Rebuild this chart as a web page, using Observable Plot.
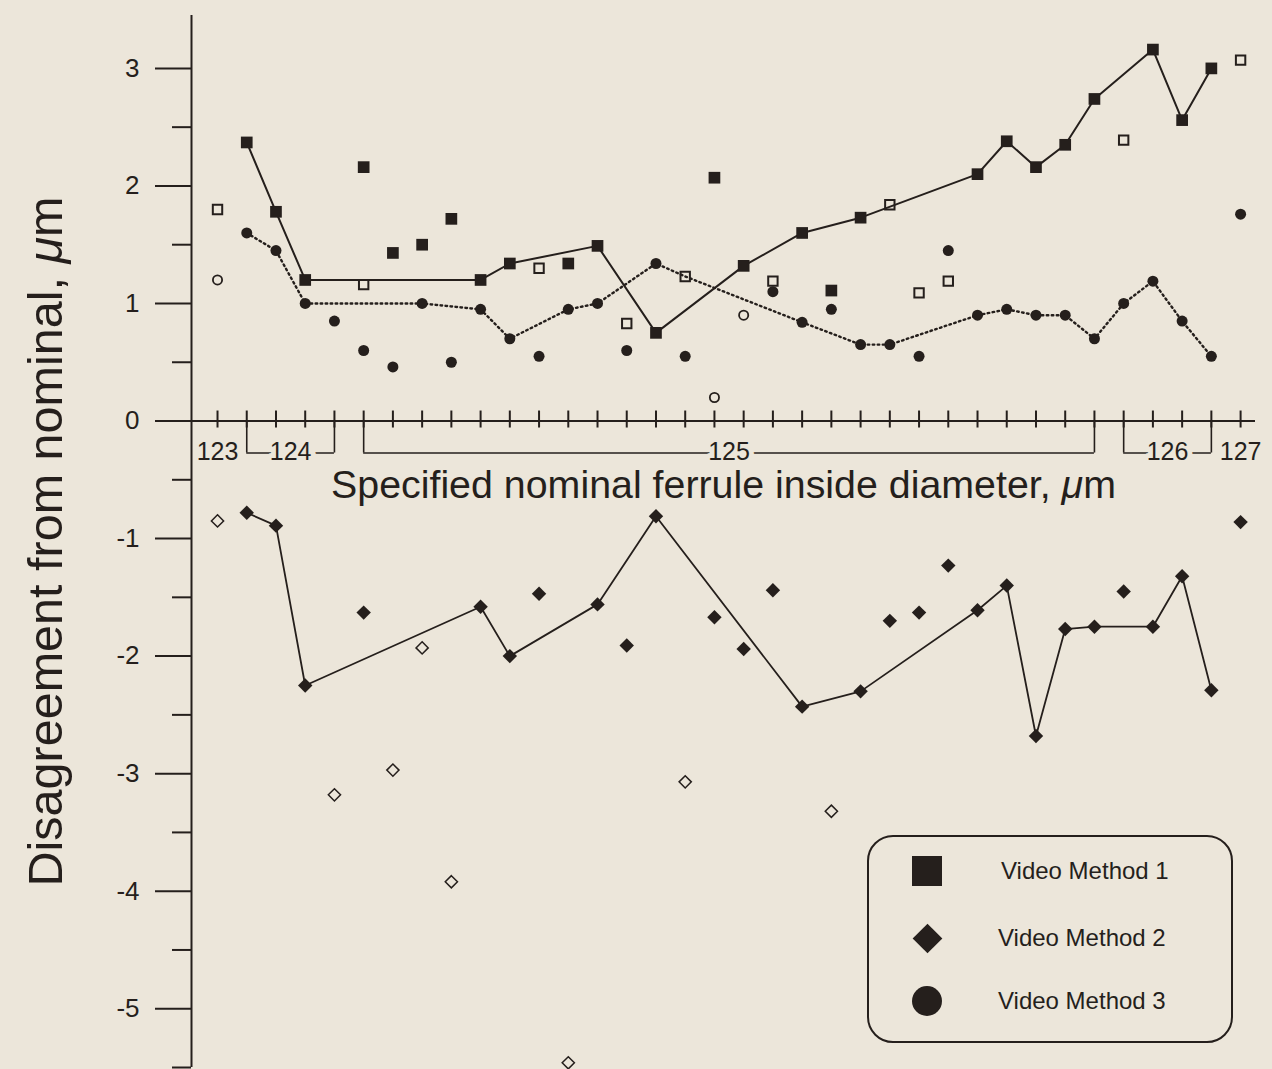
<!DOCTYPE html>
<html>
<head>
<meta charset="utf-8">
<script src="https://cdn.jsdelivr.net/npm/d3@7"></script>
<script src="https://cdn.jsdelivr.net/npm/@observablehq/plot@0.6"></script>
<style>
  html, body { margin: 0; padding: 0; background: #ece6da; }
  #wrap { position: relative; width: 1272px; height: 1069px; overflow: hidden;
          font-family: "Liberation Sans", Arial, Helvetica, sans-serif; color: #251f1c; }
  #legend { position: absolute; left: 867px; top: 835px; width: 366px; height: 208px;
            box-sizing: border-box; border: 2px solid #251f1c; border-radius: 26px; }
  .lg-mark { position: absolute; width: 30px; height: 30px; }
  .lg-text { position: absolute; font-size: 24px; line-height: 28px; white-space: nowrap; }
</style>
</head>
<body>
<div id="wrap"></div>
<script>
// ---------------- data ----------------
// x positions: specimen index 0..35 along the nominal-diameter axis
const groupLabels = ["123", "124", "125", "126", "127"];
const groupStart  = [0, 1, 5, 31, 35];
const groupEnd    = [0, 4, 30, 34, 35];

const yMajorTicks = [3, 2, 1, 0, -1, -2, -3, -4, -5];
const yMinorTicks = [2.5, 1.5, 0.5, -0.5, -1.5, -2.5, -3.5, -4.5, -5.5];

const xTitle = "Specified nominal ferrule inside diameter, μm";
const yTitle = "Disagreement from nominal, μm";

// Video Method 1 (squares)
const m1Line = [[1,2.37],[2,1.78],[3,1.20],[9,1.20],[10,1.34],[13,1.49],[15,0.75],[18,1.32],[20,1.60],[22,1.73],
                [26,2.10],[27,2.38],[28,2.16],[29,2.35],[30,2.74],[32,3.16],[33,2.56],[34,3.00]];
const m1Extra = [[5,2.16],[6,1.43],[7,1.50],[8,1.72],[12,1.34],[17,2.07],[21,1.11]];
const m1Open = [[0,1.80],[5,1.16],[11,1.30],[14,0.83],[16,1.23],[19,1.19],[23,1.84],[24,1.09],[25,1.19],[31,2.39],[35,3.07]];

// Video Method 2 (diamonds)
const m2Line = [[1,-0.78],[2,-0.89],[3,-2.25],[9,-1.58],[10,-2.00],[13,-1.56],[15,-0.81],[20,-2.43],[22,-2.30],
                [26,-1.61],[27,-1.40],[28,-2.68],[29,-1.77],[30,-1.75],[32,-1.75],[33,-1.32],[34,-2.29]];
const m2Extra = [[5,-1.63],[11,-1.47],[14,-1.91],[17,-1.67],[18,-1.94],[19,-1.44],[23,-1.70],[24,-1.63],[25,-1.23],[31,-1.45],[35,-0.86]];
const m2Open = [[0,-0.85],[4,-3.18],[6,-2.97],[7,-1.93],[8,-3.92],[12,-5.46],[16,-3.07],[21,-3.32]];

// Video Method 3 (circles)
const m3Line = [[1,1.60],[2,1.45],[3,1.00],[7,1.00],[9,0.95],[10,0.70],[12,0.95],[13,1.00],[15,1.34],[16,1.23],
                [20,0.84],[22,0.65],[23,0.65],[26,0.90],[27,0.95],[28,0.90],[29,0.90],[30,0.70],[31,1.00],[32,1.19],[33,0.85],[34,0.55]];
const m3Filled = [[1,1.60],[2,1.45],[3,1.00],[4,0.85],[5,0.60],[6,0.46],[7,1.00],[8,0.50],[9,0.95],[10,0.70],[11,0.55],
                  [12,0.95],[13,1.00],[14,0.60],[15,1.34],[16,0.55],[19,1.10],[20,0.84],[21,0.95],[22,0.65],[23,0.65],
                  [24,0.55],[25,1.45],[26,0.90],[27,0.95],[28,0.90],[29,0.90],[30,0.70],[31,1.00],[32,1.19],[33,0.85],[34,0.55],[35,1.76]];
const m3Open = [[0,1.20],[17,0.20],[18,0.90]];

const legendLabels = ["Video Method 1", "Video Method 2", "Video Method 3"];
const legendSymbols = ["square", "diamond", "circle"];

// ---------------- chart ----------------
const ink = "#251f1c";
const paper = "#ece6da";
const xDomain = [-0.89, 35.51];
const yDomain = [-5.5, 3.45];
const specimens = d3.range(groupStart[0], groupEnd[groupEnd.length - 1] + 1);
const groups = groupLabels.map((label, k) => ({label, a: groupStart[k], b: groupEnd[k]}));
const bracketGroups = groups.filter(g => g.a < g.b);
const bracketEnds = bracketGroups.flatMap(g => [g.a, g.b]);
const xy = {x: d => d[0], y: d => d[1]};

const chart = Plot.plot({
  width: 1272,
  height: 1069,
  marginLeft: 191,
  marginRight: 17,
  marginTop: 15,
  marginBottom: 2,
  x: {domain: xDomain, axis: null},
  y: {domain: yDomain, axis: null},
  style: {background: "transparent", fontFamily: '"Liberation Sans", Arial, Helvetica, sans-serif', color: ink},
  marks: [
    // y axis line and ticks
    Plot.ruleX([xDomain[0]], {stroke: ink, strokeWidth: 2}),
    Plot.axisY(yMajorTicks, {tickSize: 36, tickPadding: 16, fontSize: 26, tickFormat: d => String(d),
                             label: null, stroke: ink, fill: ink, strokeWidth: 2}),
    Plot.axisY(yMinorTicks, {tickSize: 19, fill: "none", label: null, stroke: ink, strokeWidth: 2}),
    // x axis at zero with crossing ticks
    Plot.ruleY([0], {stroke: ink, strokeWidth: 2}),
    Plot.ruleX(specimens, {x: d => d, y1: 0, y2: 0, insetTop: -10, insetBottom: -7, stroke: ink, strokeWidth: 2}),
    // group brackets
    Plot.ruleX(bracketEnds, {x: d => d, y1: 0, y2: 0, insetTop: 0, insetBottom: -32, stroke: ink, strokeWidth: 1.6}),
    Plot.ruleY(bracketGroups, {y: 0, x1: g => g.a, x2: g => g.b, dy: 32, stroke: ink, strokeWidth: 1.6}),
    Plot.text(groups, {x: g => (g.a + g.b) / 2, y: 0, dy: 31, text: g => g.label, fontSize: 25,
                       fill: ink, stroke: paper, strokeWidth: 10}),
    // titles
    Plot.text([xTitle], {text: d => d, frameAnchor: "top", textAnchor: "middle", lineAnchor: "middle",
                         dy: 470, fontSize: 39, fill: ink}),
    Plot.text([yTitle], {text: d => d, frameAnchor: "left", textAnchor: "middle", lineAnchor: "middle",
                         dx: -145, rotate: -90, fontSize: 48, fill: ink}),
    // lines
    Plot.line(m1Line, {...xy, stroke: ink, strokeWidth: 2}),
    Plot.line(m3Line, {...xy, stroke: ink, strokeWidth: 2.4, strokeDasharray: "1.6,3.4"}),
    Plot.line(m2Line, {...xy, stroke: ink, strokeWidth: 1.8}),
    // Method 1 markers
    Plot.dot(m1Line.concat(m1Extra), {...xy, symbol: "square", r: 6.6, fill: ink}),
    Plot.dot(m1Open, {...xy, symbol: "square", r: 5.3, fill: "none", stroke: ink, strokeWidth: 2}),
    // Method 2 markers
    Plot.dot(m2Line.concat(m2Extra), {...xy, symbol: "diamond2", r: 6.5, fill: ink}),
    Plot.dot(m2Open, {...xy, symbol: "diamond2", r: 5.5, fill: "none", stroke: ink, strokeWidth: 1.5}),
    // Method 3 markers
    Plot.dot(m3Filled, {...xy, symbol: "circle", r: 5.5, fill: ink}),
    Plot.dot(m3Open, {...xy, symbol: "circle", r: 4.6, fill: "none", stroke: ink, strokeWidth: 1.8})
  ]
});

// italic mu in titles, and fit title lengths
const ns = "http://www.w3.org/2000/svg";
d3.select(chart).selectAll("text").each(function () {
  const t = this.textContent;
  if (!t.includes("μ")) return;
  const parts = t.split("μ");
  while (this.firstChild) this.removeChild(this.firstChild);
  parts.forEach((p, k) => {
    if (k > 0) {
      const mu = document.createElementNS(ns, "tspan");
      mu.setAttribute("font-style", "italic");
      mu.textContent = "μ";
      this.appendChild(mu);
    }
    if (p) {
      const s = document.createElementNS(ns, "tspan");
      s.textContent = p;
      this.appendChild(s);
    }
  });
  if (t === xTitle) { this.setAttribute("textLength", 785); this.setAttribute("lengthAdjust", "spacingAndGlyphs"); }
  if (t === yTitle) { this.setAttribute("textLength", 690); this.setAttribute("lengthAdjust", "spacingAndGlyphs"); }
});

const wrap = document.getElementById("wrap");
wrap.appendChild(chart);

// legend (boxed, inside the plot area)
const legend = document.createElement("div");
legend.id = "legend";
const rowY = [36, 103, 166];
const textX = [134, 131, 131];
legendLabels.forEach((label, k) => {
  const m = document.createElement("div");
  m.className = "lg-mark";
  m.style.left = (60 - 15 - 2) + "px";
  m.style.top = (rowY[k] - 15 - 2) + "px";
  const sym = legendSymbols[k];
  if (sym === "square") {
    m.style.background = ink;
  } else if (sym === "circle") {
    m.style.background = ink; m.style.borderRadius = "50%";
  } else {
    const inner = document.createElement("div");
    inner.style.cssText = `position:absolute;left:4.5px;top:4.5px;width:21px;height:21px;background:${ink};transform:rotate(45deg);`;
    m.appendChild(inner);
  }
  legend.appendChild(m);
  const tx = document.createElement("div");
  tx.className = "lg-text";
  tx.style.left = (textX[k] - 2) + "px";
  tx.style.top = (rowY[k] - 14 - 2) + "px";
  tx.textContent = label;
  legend.appendChild(tx);
});
wrap.appendChild(legend);
</script>
</body>
</html>
